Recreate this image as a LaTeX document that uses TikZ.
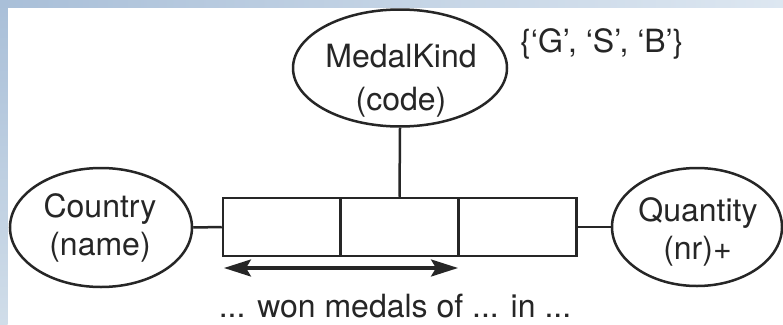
\documentclass[tikz,border=0pt]{standalone}
\usepackage{fontspec}
\setmainfont{TeX Gyre Heros}
\usetikzlibrary{shapes.geometric,arrows.meta}
\definecolor{stripA}{HTML}{A9BFD8}
\definecolor{stripB}{HTML}{DDE7F1}
\definecolor{stripC}{HTML}{D0DDE9}
\definecolor{ink}{HTML}{262626}
\tikzset{
  attr/.style={ellipse, draw=ink, line width=2.5pt, inner sep=0pt},
  cell/.style={rectangle, draw=ink, line width=2.5pt, minimum width=118pt, minimum height=58pt, inner sep=0pt},
  link/.style={draw=ink, line width=2.5pt},
  lbl/.style={text=ink, inner sep=0pt, anchor=base, font=\fontsize{32}{40}\selectfont},
  tipA/.tip={Stealth[length=27pt,width=17pt,inset=5pt]},
}
\begin{document}
\begin{tikzpicture}[x=1pt,y=-1pt]
\useasboundingbox (0,0) rectangle (783,324);
\fill[white] (0,0) rectangle (783,324);
\shade[top color=stripA, bottom color=stripC] (0,0) rectangle (7.5,324);
\shade[left color=stripA, right color=stripB] (0,0) rectangle (783,7);
% attributes
\node[attr, minimum width=214pt, minimum height=117pt] (medal) at (400,68) {};
\node[attr, minimum width=182pt, minimum height=119pt] (country) at (101,227.5) {};
\node[attr, minimum width=170pt, minimum height=118pt] (qty) at (697,227) {};
\node[lbl] (medalA) at (401,67) {MedalKind};
\node[lbl] (medalB) at (401,110.5) {(code)};
\node[lbl] (countryA) at (100,217) {Country};
\node[lbl] (countryB) at (100,255.5) {(name)};
\node[lbl] (qtyA) at (698,221.5) {Quantity};
\node[lbl] (qtyB) at (697.5,259) {(nr)+};
% fact type
\node[cell] (c1) at (282,227) {};
\node[cell] (c2) at (399.5,227) {};
\node[cell] (c3) at (517.5,227) {};
\draw[link] (country.east) -- (c1.west);
\draw[link] (c3.east) -- (qty.west);
\draw[link] (medal.south) -- (c2.north);
% uniqueness arrow
\coordinate (al) at (224,268);
\coordinate (ar) at (458,268);
\draw[draw=ink, line width=3.2pt, tipA-tipA] (al) -- (ar);
% labels
\node[lbl, anchor=base west] (dom) at (520,52) {\{‘G’, ‘S’, ‘B’\}};
\node[lbl] (reading) at (395,317) {... won medals of ... in ...};
\end{tikzpicture}
\end{document}
